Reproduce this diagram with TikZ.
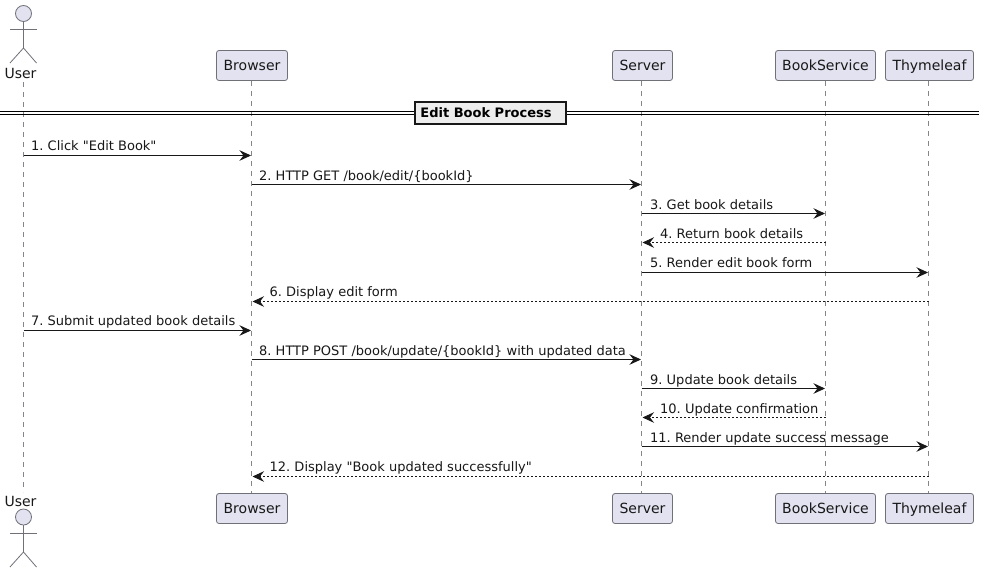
\documentclass[tikz,border=0pt]{standalone}
\usepackage{fontspec}
\setmainfont{DejaVu Sans}[Ligatures=TeXOff]
\frenchspacing
\usetikzlibrary{arrows.meta}
\definecolor{pfill}{HTML}{E2E2F0}
\definecolor{pline}{HTML}{707078}
\definecolor{ink}{HTML}{181818}
\tikzset{
  x=1pt,y=-1pt,
  partbox/.style={draw=pline,line width=0.8pt,fill=pfill,rounded corners=2.5pt,minimum height=30pt,inner sep=0pt,text height=10pt,text depth=0pt,text=ink,font=\fontsize{14}{16}\selectfont},
  acthead/.style={circle,draw=pline,line width=0.8pt,fill=pfill,minimum size=16pt,inner sep=0pt},
  actline/.style={draw=pline,line width=0.8pt},
  actlabel/.style={text=ink,inner sep=0pt,font=\fontsize{14}{16}\selectfont},
  lifeline/.style={draw=pline!85!white,line width=0.55pt,dash pattern=on 5pt off 5pt},
  msgsolid/.style={draw=ink,line width=1pt,-{Stealth[length=11.5pt,width=10.5pt,inset=4pt]},shorten >=0.5pt},
  msgdash/.style={draw=ink,line width=0.9pt,dash pattern=on 2pt off 2pt,-{Stealth[length=11.5pt,width=10.5pt,inset=4pt,sep=0pt]},shorten >=1pt},
  msglabel/.style={anchor=base west,inner sep=0pt,text=ink,font=\fontsize{13}{15}\selectfont},
  divbox/.style={draw=ink,line width=2pt,fill=black!7,minimum width=151pt,minimum height=22pt,inner sep=0pt,text height=10pt,text depth=0pt,text=black,font=\fontsize{13}{15}\selectfont\bfseries},
  divline/.style={draw=black,line width=1.2pt}
}
\begin{document}
\begin{tikzpicture}
\useasboundingbox (0,0) rectangle (984,573);
\fill[white] (0,0) rectangle (984,573);

% participants
\node[partbox,minimum width=71pt]  (browser)  at (252,65.5) {Browser};
\node[partbox,minimum width=60pt]  (server)   at (642.5,65.5) {Server};
\node[partbox,minimum width=100pt] (book)     at (825.5,65.5) {BookService};
\node[partbox,minimum width=88pt]  (thyme)    at (929.5,65.5) {Thymeleaf};
\node[partbox,minimum width=71pt]  (browserb) at (252,508.5) {Browser};
\node[partbox,minimum width=60pt]  (serverb)  at (642.5,508.5) {Server};
\node[partbox,minimum width=100pt] (bookb)    at (825.5,508.5) {BookService};
\node[partbox,minimum width=88pt]  (thymeb)   at (929.5,508.5) {Thymeleaf};

% lifeline axes
\node[acthead] (userhead)  at (23.5,13.5) {};
\node[acthead] (userheadb) at (23.5,517) {};
\coordinate (ax1) at (251.5,0);
\coordinate (ax2) at (641.5,0);
\coordinate (ax3) at (825.5,0);
\coordinate (ax4) at (928.5,0);

% actor top
\coordinate (ubody) at (23.5,48);
\coordinate (uarml) at (10,29);
\coordinate (uarmr) at (36.5,29);
\coordinate (ulegl) at (10,63);
\coordinate (ulegr) at (36.5,63);
\draw[actline] (userhead.south) -- (ubody);
\draw[actline] (uarml) -- (uarmr);
\draw[actline] (ulegl) -- (ubody) -- (ulegr);
\node[actlabel,anchor=base] (userlabel) at (20.5,78) {User};

% actor bottom
\coordinate (vbody) at (23.5,552);
\coordinate (varml) at (10,533);
\coordinate (varmr) at (36.5,533);
\coordinate (vlegl) at (10,567);
\coordinate (vlegr) at (36.5,567);
\draw[actline] (userheadb.south) -- (vbody);
\draw[actline] (varml) -- (varmr);
\draw[actline] (vlegl) -- (vbody) -- (vlegr);
\node[actlabel,anchor=base] (userlabelb) at (20.5,506) {User};

% lifelines
\draw[lifeline] (userhead |- 0,82) -- (userhead |- 0,492);
\draw[lifeline] (ax1 |- browser.south) -- (ax1 |- browserb.north);
\draw[lifeline] (ax2 |- server.south) -- (ax2 |- serverb.north);
\draw[lifeline] (ax3 |- book.south) -- (ax3 |- bookb.north);
\draw[lifeline] (ax4 |- thyme.south) -- (ax4 |- thymeb.north);

% divider
\coordinate (divl) at (0,113);
\coordinate (divr) at (979,113);
\draw[divline] ([yshift=-1.6pt]divl) -- ([yshift=-1.6pt]divr);
\draw[divline] ([yshift=1.6pt]divl) -- ([yshift=1.6pt]divr);
\node[divbox] (divider) at (490,112.5) {Edit Book Process\kern 8pt\relax};

% messages
\foreach \n/\yy in {1/155.5,2/184.5,3/213.5,4/242.5,5/272.5,6/301.5,7/330.5,8/359.5,9/388.5,10/417.5,11/446.5,12/476.5}{
  \coordinate (m\n) at (0,\yy);
}
\draw[msgsolid] (userhead |- m1) -- (ax1 |- m1);
\node[msglabel] (l1) at ([xshift=7.5pt,yshift=5.5pt]userhead |- m1) {1. Click "Edit Book"};
\draw[msgsolid] (ax1 |- m2) -- (ax2 |- m2);
\node[msglabel] (l2) at ([xshift=7.5pt,yshift=4.5pt]ax1 |- m2) {2. HTTP GET /book/edit/\{bookId\}};
\draw[msgsolid] (ax2 |- m3) -- (ax3 |- m3);
\node[msglabel] (l3) at ([xshift=8.5pt,yshift=4.5pt]ax2 |- m3) {3. Get book details};
\draw[msgdash] (ax3 |- m4) -- (ax2 |- m4);
\node[msglabel] (l4) at ([xshift=18.5pt,yshift=4.5pt]ax2 |- m4) {4. Return book details};
\draw[msgsolid] (ax2 |- m5) -- (ax4 |- m5);
\node[msglabel] (l5) at ([xshift=8.5pt,yshift=5.5pt]ax2 |- m5) {5. Render edit book form};
\draw[msgdash] (ax4 |- m6) -- (ax1 |- m6);
\node[msglabel] (l6) at ([xshift=18pt,yshift=5.5pt]ax1 |- m6) {6. Display edit form};
\draw[msgsolid] (userhead |- m7) -- (ax1 |- m7);
\node[msglabel] (l7) at ([xshift=7.5pt,yshift=5.5pt]userhead |- m7) {7. Submit updated book details};
\draw[msgsolid] (ax1 |- m8) -- (ax2 |- m8);
\node[msglabel] (l8) at ([xshift=7.5pt,yshift=4.5pt]ax1 |- m8) {8. HTTP POST /book/update/\{bookId\} with updated data};
\draw[msgsolid] (ax2 |- m9) -- (ax3 |- m9);
\node[msglabel] (l9) at ([xshift=8.5pt,yshift=4.5pt]ax2 |- m9) {9. Update book details};
\draw[msgdash] (ax3 |- m10) -- (ax2 |- m10);
\node[msglabel] (l10) at ([xshift=18.5pt,yshift=4.5pt]ax2 |- m10) {10. Update confirmation};
\draw[msgsolid] (ax2 |- m11) -- (ax4 |- m11);
\node[msglabel] (l11) at ([xshift=8.5pt,yshift=4.5pt]ax2 |- m11) {11. Render update success message};
\draw[msgdash] (ax4 |- m12) -- (ax1 |- m12);
\node[msglabel] (l12) at ([xshift=18pt,yshift=5.5pt]ax1 |- m12) {12. Display "Book updated successfully"};
\end{tikzpicture}
\end{document}
